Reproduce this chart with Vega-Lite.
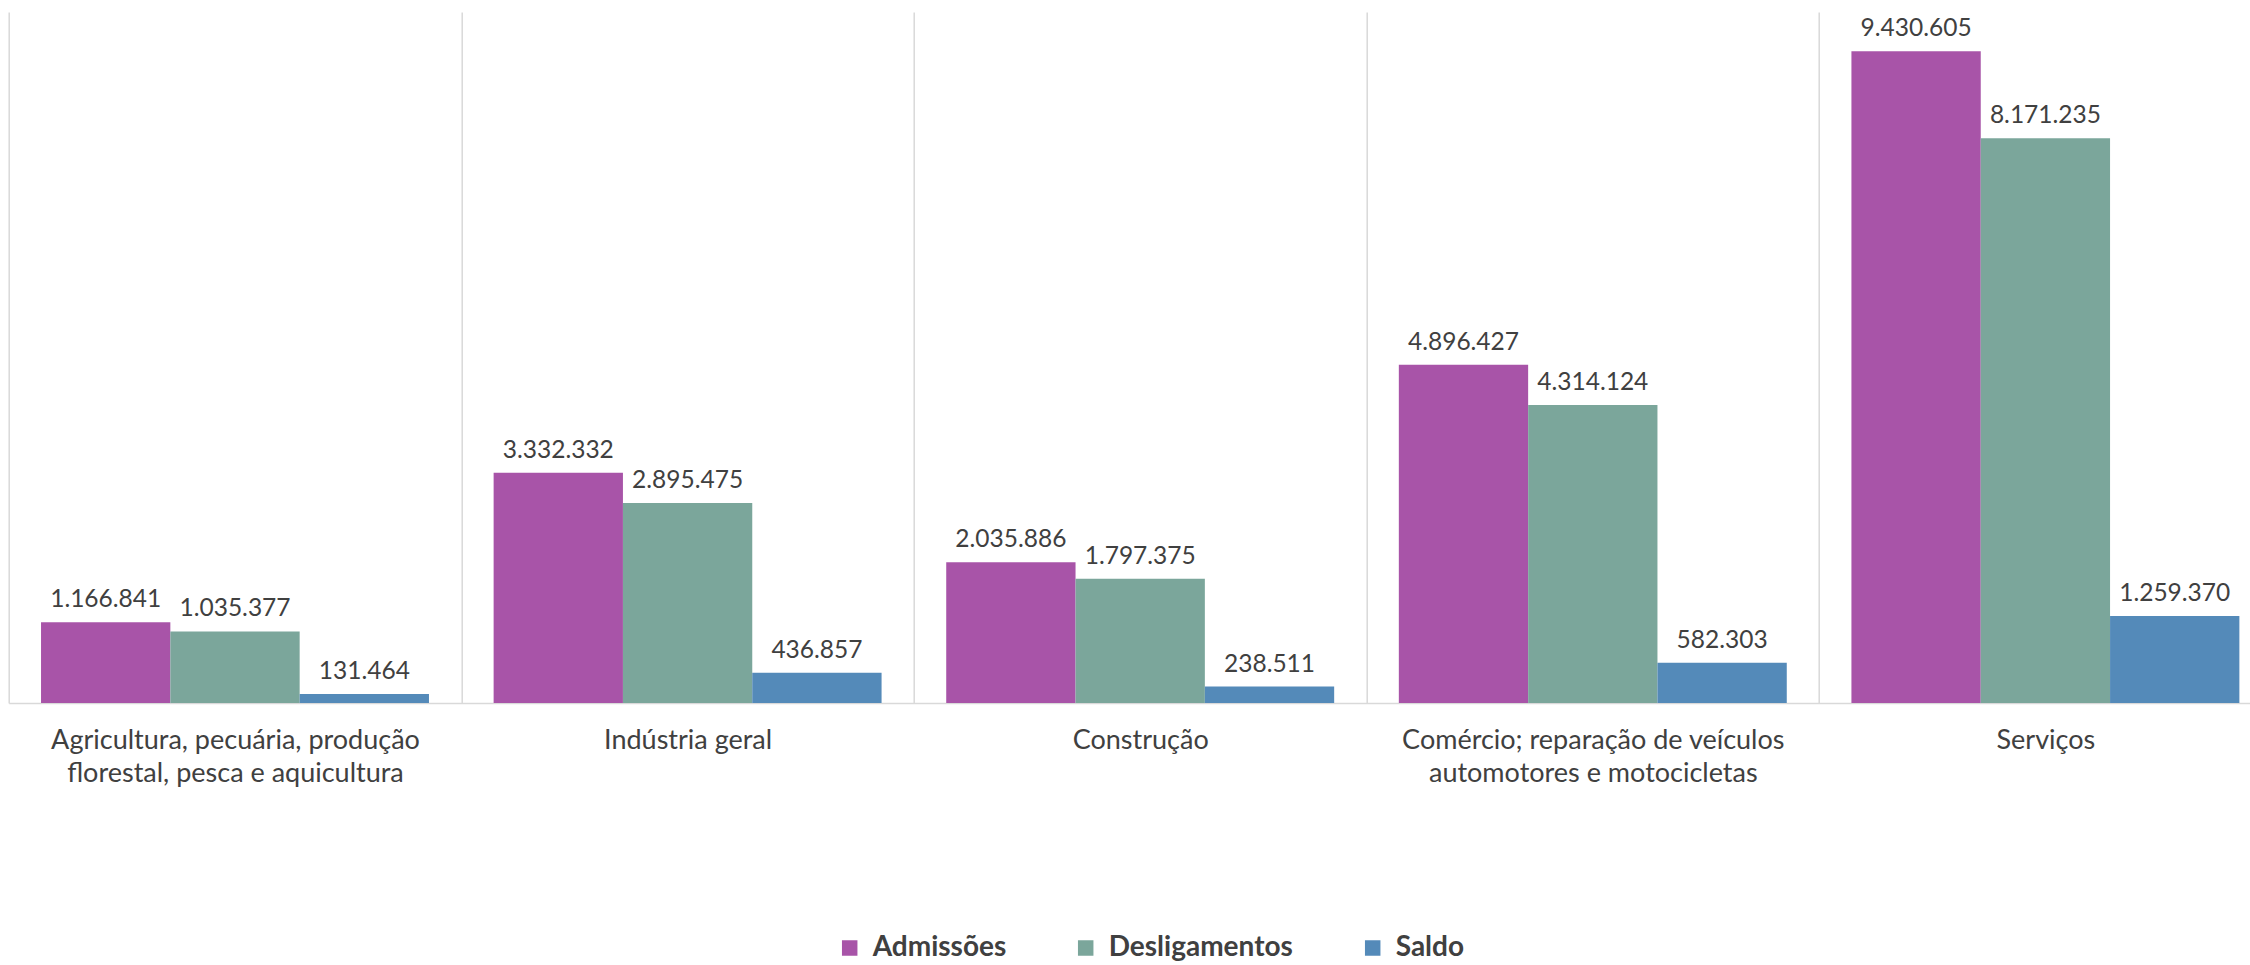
{
  "$schema": "https://vega.github.io/schema/vega-lite/v6.json",
  "width": 2241.3,
  "height": 691,
  "autosize": {"type": "none"},
  "padding": {"left": 8.7, "top": 12, "right": 0, "bottom": 262},
  "background": "white",
  "config": {
    "locale": {"number": {"decimal": ",", "thousands": ".", "grouping": [3], "currency": ["R$ ", ""]}},
    "view": {"stroke": null},
    "font": "Lato"
  },
  "data": {
    "values": [
      {"setor": "Agricultura, pecuária, produção florestal, pesca e aquicultura", "tipo": "Admissões", "valor": 1166841},
      {"setor": "Agricultura, pecuária, produção florestal, pesca e aquicultura", "tipo": "Desligamentos", "valor": 1035377},
      {"setor": "Agricultura, pecuária, produção florestal, pesca e aquicultura", "tipo": "Saldo", "valor": 131464},
      {"setor": "Indústria geral", "tipo": "Admissões", "valor": 3332332},
      {"setor": "Indústria geral", "tipo": "Desligamentos", "valor": 2895475},
      {"setor": "Indústria geral", "tipo": "Saldo", "valor": 436857},
      {"setor": "Construção", "tipo": "Admissões", "valor": 2035886},
      {"setor": "Construção", "tipo": "Desligamentos", "valor": 1797375},
      {"setor": "Construção", "tipo": "Saldo", "valor": 238511},
      {"setor": "Comércio; reparação de veículos automotores e motocicletas", "tipo": "Admissões", "valor": 4896427},
      {"setor": "Comércio; reparação de veículos automotores e motocicletas", "tipo": "Desligamentos", "valor": 4314124},
      {"setor": "Comércio; reparação de veículos automotores e motocicletas", "tipo": "Saldo", "valor": 582303},
      {"setor": "Serviços", "tipo": "Admissões", "valor": 9430605},
      {"setor": "Serviços", "tipo": "Desligamentos", "valor": 8171235},
      {"setor": "Serviços", "tipo": "Saldo", "valor": 1259370}
    ]
  },
  "encoding": {
    "x": {
      "field": "setor",
      "type": "nominal",
      "sort": null,
      "scale": {"range": [0, 2263], "paddingInner": 0, "paddingOuter": 0},
      "axis": {
        "title": null,
        "tickBand": "extent",
        "ticks": false,
        "grid": true,
        "gridColor": "#D9D9D9",
        "gridWidth": 1.5,
        "domainColor": "#D9D9D9",
        "domainWidth": 1.5,
        "labelAngle": 0,
        "labelFont": "Lato",
        "labelFontSize": 27,
        "labelColor": "#404040",
        "labelPadding": 24,
        "labelLineHeight": 33,
        "labelBaseline": "top",
        "labelLimit": 0,
        "labelExpr": "split(replace(replace(datum.label, 'produção ', 'produção|'), 'veículos ', 'veículos|'), '|')"
      }
    },
    "xOffset": {
      "field": "tipo",
      "type": "nominal",
      "sort": ["Admissões", "Desligamentos", "Saldo"],
      "scale": {"paddingInner": 0, "paddingOuter": 0.25}
    },
    "y": {
      "field": "valor",
      "type": "quantitative",
      "scale": {"domain": [0, 10000000]},
      "axis": null
    }
  },
  "layer": [
    {
      "mark": {"type": "bar"},
      "encoding": {
        "color": {
          "field": "tipo",
          "type": "nominal",
          "sort": ["Admissões", "Desligamentos", "Saldo"],
          "scale": {"domain": ["Admissões", "Desligamentos", "Saldo"], "range": ["#A854A8", "#7BA69B", "#548AB9"]},
          "legend": {
            "orient": "none",
            "legendX": 827,
            "legendY": 922,
            "direction": "horizontal",
            "title": null,
            "symbolType": "square",
            "symbolSize": 240,
            "symbolStrokeWidth": 0,
            "symbolOpacity": 1,
            "labelFont": "Lato",
            "labelFontSize": 28,
            "labelFontWeight": "bold",
            "labelColor": "#404040",
            "labelLimit": 0,
            "labelOffset": 9,
            "columnPadding": 65
          }
        }
      }
    },
    {
      "mark": {"type": "text", "baseline": "alphabetic", "dy": -15, "fontSize": 24.5, "color": "#404040", "font": "Lato"},
      "encoding": {
        "text": {"field": "valor", "type": "quantitative", "format": ",d"}
      }
    }
  ]
}
